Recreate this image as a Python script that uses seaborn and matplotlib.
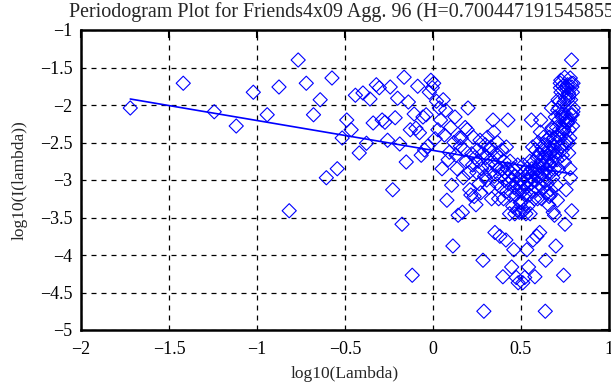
import numpy as np
import pandas as pd
import matplotlib
matplotlib.use("Agg")
import matplotlib.pyplot as plt
import seaborn as sns

# periodogram points, low half of the frequencies
log_lambda_lo = [
    -1.720, -1.419, -1.243, -1.118, -1.021, -0.942, -0.875, -0.817, -0.766, -0.720,
    -0.679, -0.641, -0.606, -0.574, -0.544, -0.516, -0.490, -0.465, -0.441, -0.419,
    -0.398, -0.378, -0.358, -0.340, -0.322, -0.305, -0.289, -0.273, -0.258, -0.243,
    -0.229, -0.215, -0.201, -0.189, -0.176, -0.164, -0.152, -0.140, -0.129, -0.118,
    -0.107, -0.097, -0.087, -0.077, -0.067, -0.057, -0.048, -0.039, -0.030, -0.021,
    -0.012, -0.004, 0.004,
    0.012, 0.020, 0.028, 0.036, 0.043, 0.051, 0.058, 0.065, 0.072, 0.079,
    0.086, 0.093, 0.100, 0.106, 0.113, 0.119, 0.125, 0.131, 0.137, 0.143,
    0.149, 0.155, 0.161, 0.167, 0.172, 0.178, 0.183, 0.189, 0.194, 0.199,
    0.204, 0.209, 0.215, 0.220, 0.225, 0.229, 0.234, 0.239, 0.244, 0.249,
    0.253, 0.258, 0.262, 0.267, 0.271, 0.276, 0.280, 0.284, 0.289, 0.293,
    0.297, 0.301, 0.305, 0.309, 0.313, 0.317, 0.321, 0.325, 0.329, 0.333,
    0.337, 0.341, 0.345, 0.348, 0.352, 0.356, 0.359, 0.363, 0.366, 0.370,
    0.373, 0.377, 0.380, 0.384, 0.387, 0.391, 0.394, 0.397, 0.401, 0.404,
    0.407, 0.410, 0.414, 0.417, 0.420, 0.423, 0.426, 0.429, 0.432, 0.435,
    0.438, 0.441, 0.444, 0.447, 0.450, 0.453, 0.456, 0.459, 0.462, 0.465,
    0.468, 0.470, 0.473, 0.476, 0.479, 0.481, 0.484, 0.487, 0.490, 0.492,
    0.495, 0.498,
]
log_i_lo = [
    -2.04, -1.71, -2.09, -2.28, -1.83, -2.13, -1.76, -3.41, -1.40, -1.71,
    -2.13, -1.93, -2.97, -1.64, -2.85, -2.44, -2.20, -2.33, -1.87, -2.64,
    -1.84, -2.51, -1.92, -2.24, -1.73, -1.77, -2.20, -2.23, -2.47, -1.76,
    -3.13, -2.17, -1.91, -2.52, -3.59, -1.63, -2.76, -1.96, -2.33, -4.27,
    -2.12, -2.31, -1.75, -2.37, -2.67, -2.16, -2.60, -2.13, -2.55, -1.83,
    -1.67, -1.77, -1.71,
    -2.45, -1.95, -2.33, -2.04, -2.20, -2.85, -1.93, -2.40, -2.07, -3.27,
    -2.73, -2.63, -2.30, -3.07, -3.88, -2.50, -2.16, -2.67, -2.85, -3.47,
    -2.44, -2.55, -2.44, -3.43, -2.97, -2.60, -2.30, -2.75, -2.33, -2.04,
    -2.90, -3.13, -3.20, -2.65, -2.80, -2.43, -3.22, -2.70, -3.33, -2.90,
    -2.60, -2.75, -3.05, -2.47, -3.17, -2.85, -2.65, -4.07, -4.75, -2.95,
    -2.53, -2.70, -3.00, -2.43, -2.80, -3.10, -2.60, -2.90, -2.56, -3.25,
    -2.75, -2.20, -2.36, -2.95, -3.70, -2.80, -2.65, -3.05, -2.50, -2.85,
    -3.25, -2.70, -3.75, -2.95, -3.10, -2.60, -2.85, -4.29, -3.25, -2.75,
    -3.00, -2.90, -3.80, -2.56, -3.15, -2.85, -2.20, -3.05, -2.95, -3.45,
    -2.75, -3.20, -2.90, -4.16, -3.00, -3.35, -2.85, -3.93, -3.10, -3.45,
    -2.95, -3.20, -4.30, -3.05, -3.40, -2.80, -4.37, -3.15, -3.43, -3.00,
    -3.30, -3.10,
]

# high half of the frequencies (the mirrored arm on the right)
log_lambda_hi = [
    0.500, 0.503, 0.505, 0.508, 0.510, 0.513, 0.516, 0.518, 0.521, 0.523,
    0.526, 0.528, 0.530, 0.533, 0.535, 0.538, 0.540, 0.543, 0.545, 0.547,
    0.550, 0.552, 0.554, 0.557, 0.559, 0.561, 0.563, 0.566, 0.568, 0.570,
    0.572, 0.575, 0.577, 0.579, 0.581, 0.583, 0.585, 0.588, 0.590, 0.592,
    0.594, 0.596, 0.598, 0.600, 0.602, 0.604, 0.606, 0.608, 0.610, 0.612,
    0.615, 0.617, 0.619, 0.620, 0.622, 0.624, 0.626, 0.628, 0.630, 0.632,
    0.634, 0.636, 0.638, 0.640, 0.642, 0.644, 0.646, 0.647, 0.649, 0.651,
    0.653, 0.655, 0.657, 0.658, 0.660, 0.662, 0.664, 0.666, 0.667, 0.669,
    0.671, 0.673, 0.675, 0.676, 0.678, 0.680, 0.681, 0.683, 0.685, 0.687,
    0.688, 0.690, 0.692, 0.693, 0.695, 0.697, 0.698, 0.700, 0.702, 0.703,
    0.705, 0.707, 0.708, 0.710, 0.711, 0.713, 0.715, 0.716, 0.718, 0.719,
    0.721, 0.723, 0.724, 0.726, 0.727, 0.729, 0.730, 0.732, 0.733, 0.735,
    0.736, 0.738, 0.739, 0.741, 0.742, 0.744, 0.745, 0.747, 0.748, 0.750,
    0.751, 0.753, 0.754, 0.756, 0.757, 0.759, 0.760, 0.761, 0.763, 0.764,
    0.766, 0.767, 0.769, 0.770, 0.771, 0.773, 0.774, 0.776, 0.777, 0.778,
    0.780, 0.781, 0.782, 0.784, 0.785, 0.787, 0.788, 0.789, 0.791, 0.792,
    0.793, 0.795, 0.796, 0.797,
]
log_i_hi = [
    -3.30, -3.00, -3.43, -3.15, -4.37, -2.80, -3.40, -3.05, -4.30, -3.20,
    -2.95, -3.45, -3.10, -3.93, -2.85, -3.35, -3.00, -4.16, -2.90, -3.20,
    -2.75, -3.45, -2.95, -3.05, -2.20, -2.85, -3.15, -2.56, -3.80, -2.90,
    -3.00, -2.75, -3.25, -4.29, -2.85, -2.60, -3.10, -2.95, -3.75, -2.70,
    -3.25, -2.85, -2.50, -3.05, -2.65, -2.80, -3.70, -2.95, -2.36, -2.20,
    -2.75, -3.25, -2.56, -2.90, -2.60, -3.10, -2.80, -2.43, -3.00, -2.70,
    -2.53, -2.95, -4.75, -4.07, -2.65, -2.85, -3.17, -2.47, -3.05, -2.75,
    -2.60, -2.90, -3.33, -2.70, -3.22, -2.43, -2.80, -2.65, -3.20, -3.13,
    -2.90, -2.04, -2.33, -2.75, -2.30, -2.60, -2.97, -3.43, -2.44, -2.55,
    -2.44, -3.47, -2.85, -2.67, -2.16, -2.50, -3.88, -3.07, -2.30, -2.63,
    -2.73, -3.27, -2.07, -2.40, -1.93, -2.85, -2.20, -2.04, -2.33, -1.95,
    -2.45, -1.71, -1.77, -1.67, -1.83, -2.55, -2.13, -2.60, -2.16, -2.67,
    -2.37, -1.75, -2.31, -2.12, -4.27, -2.33, -1.96, -2.76, -1.63, -3.59,
    -2.52, -1.91, -2.17, -3.13, -1.76, -2.47, -2.23, -2.20, -1.77, -1.73,
    -2.24, -1.92, -2.51, -1.84, -2.64, -1.87, -2.33, -2.20, -2.44, -2.85,
    -1.64, -2.97, -1.93, -2.13, -1.71, -1.40, -3.41, -1.76, -2.13, -1.83,
    -2.28, -2.09, -1.71, -2.04,
]

# least-squares fit line end points
fit_x = [-1.72, 0.79]
fit_y = [-1.92, -2.92]

title = "Periodogram Plot for Friends4x09 Agg. 96 (H=0.700447191545855)"

pts = pd.DataFrame({
    "x": log_lambda_lo + log_lambda_hi,
    "y": log_i_lo + log_i_hi,
})
fit = pd.DataFrame({"x": fit_x, "y": fit_y})

sns.set_style("white")
plt.rcParams["font.family"] = ["Liberation Serif", "DejaVu Serif"]

fig = plt.figure(figsize=(6.11, 3.85), dpi=100)
ax = fig.add_axes([81 / 611, 55 / 385, 528 / 611, 300 / 385])

sns.scatterplot(data=pts, x="x", y="y", ax=ax, marker="D", s=52,
                facecolor="none", edgecolor="#0000ff", linewidth=0.8,
                zorder=3)
sns.lineplot(data=fit, x="x", y="y", ax=ax, color="#0000ff",
             linewidth=1.2, zorder=4)

ax.set_xlim(-2, 1)
ax.set_ylim(-5, -1)
ax.set_xticks(np.arange(-2, 1.01, 0.5))
ax.set_yticks(np.arange(-5, -0.99, 0.5))
ax.set_xticklabels(["\u22122", "\u22121.5", "\u22121", "\u22120.5", "0", "0.5", "1"])
ax.set_yticklabels(["\u22125", "\u22124.5", "\u22124", "\u22123.5", "\u22123",
                    "\u22122.5", "\u22122", "\u22121.5", "\u22121"])
ax.grid(True, color="black", linestyle=(0, (4, 4)), linewidth=0.9)
ax.tick_params(direction="in", top=True, right=True, length=6, width=1.5,
               labelsize=13, colors="black")
ax.tick_params(axis="x", pad=8)
ax.tick_params(axis="y", pad=6)
for sp in ax.spines.values():
    sp.set_linewidth(1.8)
    sp.set_color("black")

ax.set_xlabel("log10(Lambda)", fontsize=12.5, labelpad=6)
ax.set_ylabel("log10(I(lambda))", fontsize=12.5, labelpad=9)
ax.set_title(title, fontsize=14.4, pad=9)

fig.savefig("out.png", dpi=100)
